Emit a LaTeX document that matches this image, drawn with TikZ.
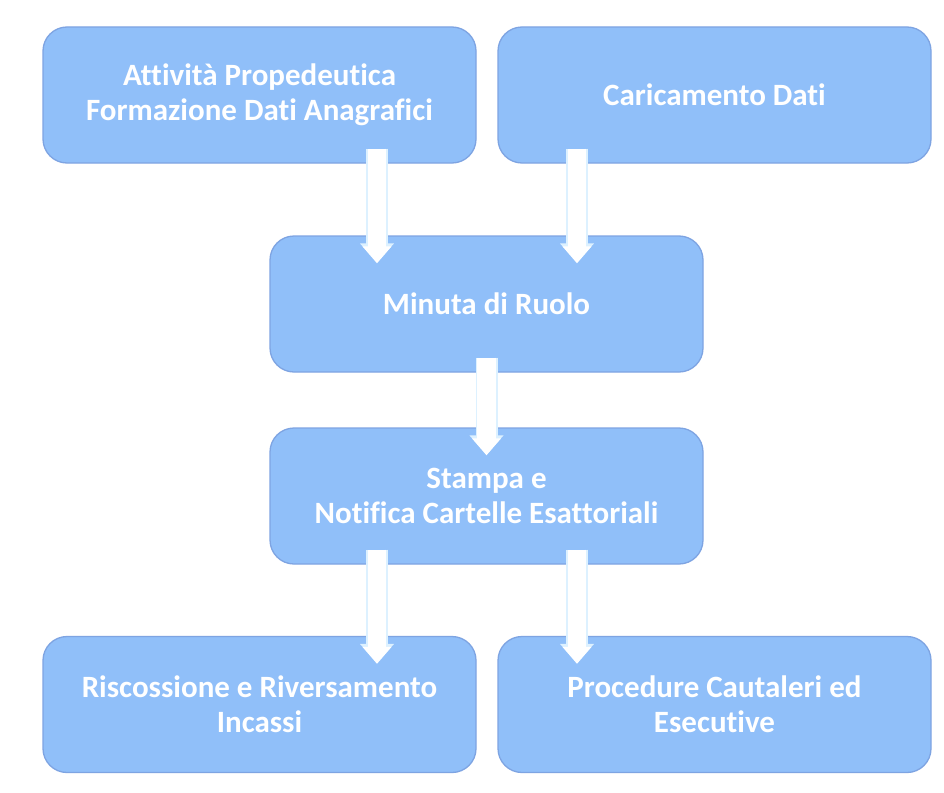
\documentclass[tikz,border=0pt]{standalone}
\usepackage{fontspec}
\setmainfont{Carlito}[Ligatures=NoCommon]
\usetikzlibrary{arrows.meta,calc}
\definecolor{boxfill}{HTML}{90BFF9}
\definecolor{boxline}{HTML}{7EA4E2}
\definecolor{glow}{HTML}{DDF1FF}
\tikzset{
  stepbox/.style={draw=boxline, line width=1.3pt, fill=boxfill, rounded corners=24pt,
    minimum width=433pt, minimum height=136pt, inner sep=0pt,
    text=white, font=\bfseries\fontsize{31}{35}\selectfont, align=center},
  flowglow/.style={line width=22pt, glow, -{Triangle[width=33pt,length=19pt]}},
  flowarrow/.style={line width=18.5pt, white, -{Triangle[width=28pt,length=17pt]}}
}
\begin{document}
\begin{tikzpicture}[x=1pt,y=-1pt]
\useasboundingbox (0,0) rectangle (944,792);
\fill[white] (0,0) rectangle (944,792);
\node[stepbox] (b1) at (259.5,95) {Attività Propedeutica\\Formazione Dati Anagrafici};
\node[stepbox] (b2) at (714.5,95) {Caricamento Dati};
\node[stepbox] (b3) at (486.5,304) {Minuta di Ruolo};
\node[stepbox] (b4) at (486.5,496) {Stampa e\\Notifica Cartelle Esattoriali};
\node[stepbox] (b5) at (259.5,704.5) {Riscossione e Riversamento\\Incassi};
\node[stepbox] (b6) at (714.5,704.5) {Procedure Cautaleri ed\\Esecutive};
% arrows
\foreach \s/\t/\dx in {b1/b3/-109.5, b2/b3/90.5, b3/b4/0, b4/b5/117.5, b4/b6/-137.5}{
  \coordinate (s) at ($(\s.south)+(0,-15)$);
  \coordinate (e) at ($(\t.north)+(\dx,28)$);
  \draw[flowglow] (s -| e) -- ([yshift=1pt]e);
  \draw[flowarrow] (s -| e) -- (e);
}
\end{tikzpicture}
\end{document}
